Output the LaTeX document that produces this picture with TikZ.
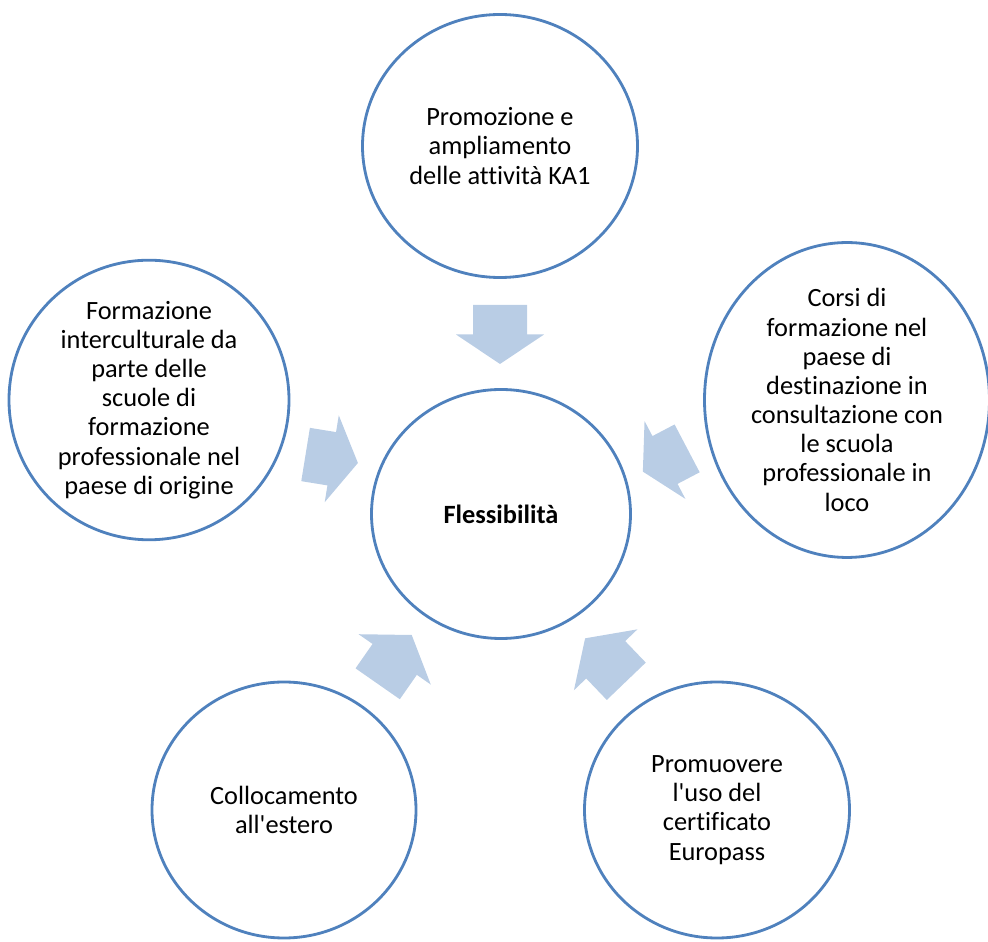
\documentclass[tikz,border=0pt]{standalone}
\usepackage{fontspec}
\setmainfont{Carlito}[Ligatures=NoCommon]
\usepackage{xcolor}
\usetikzlibrary{shapes.geometric, positioning, calc}

\definecolor{ringblue}{RGB}{79,129,189}
\definecolor{arrowblue}{RGB}{185,205,229}

\begin{document}
\begin{tikzpicture}[
            bubble/.style={ellipse, draw=ringblue, line width=1.6pt, fill=white, inner sep=0pt, align=center, font=\fontsize{15}{16.6}\selectfont},
            hub/.style={bubble, minimum width=5.18cm, minimum height=4.98cm},
            blockarrow/.pic={
                \fill[arrowblue] ({-#1/2},-0.54) -- (0,-0.54) -- (0,-0.88) -- ({#1/2},0) -- (0,0.88) -- (0,0.54) -- ({-#1/2},0.54) -- cycle;
            }
        ]
            \useasboundingbox (0,0) rectangle (19.76,18.84);

% Central node
            \node[hub] (flex) at (10.02,8.56) {\textbf{Flessibilità}};

% Outer bubbles
            \node[bubble, minimum width=5.5cm, minimum height=5.26cm] (promo) at (10.00,15.92) {Promozione e\\ampliamento\\delle attività KA1};
            \node[bubble, minimum width=5.6cm, minimum height=5.52cm] (interc) at (2.98,10.84) {Formazione\\interculturale da\\parte delle\\scuole di\\formazione\\professionale nel\\paese di origine};
            \node[bubble, minimum width=5.7cm, minimum height=5.36cm] (corsi) at (16.94,10.84) {Corsi di\\formazione nel\\paese di\\destinazione in\\consultazione con\\le scuola\\professionale in\\loco};
            \node[bubble, minimum width=5.28cm, minimum height=5.12cm] (colloc) at (5.68,2.64) {Collocamento\\all\textquotesingle estero};
            \node[bubble, minimum width=5.3cm, minimum height=5.12cm] (europass) at (14.34,2.64) {Promuovere\\l\textquotesingle uso del\\certificato\\Europass};

% Block arrows towards the centre
            \pic[rotate=-90] (arr_top) at (10.00,12.15) {blockarrow=1.18};
            \pic[rotate=-9.2] (arr_left) at (6.635,9.665) {blockarrow=1.06};
            \pic[rotate=207.7] (arr_right) at (13.30,9.64) {blockarrow=1.0};
            \pic[rotate=55.1] (arr_bl) at (7.894,5.652) {blockarrow=1.19};
            \pic[rotate=133.8] (arr_br) at (12.114,5.644) {blockarrow=1.19};

        \end{tikzpicture}
\end{document}
